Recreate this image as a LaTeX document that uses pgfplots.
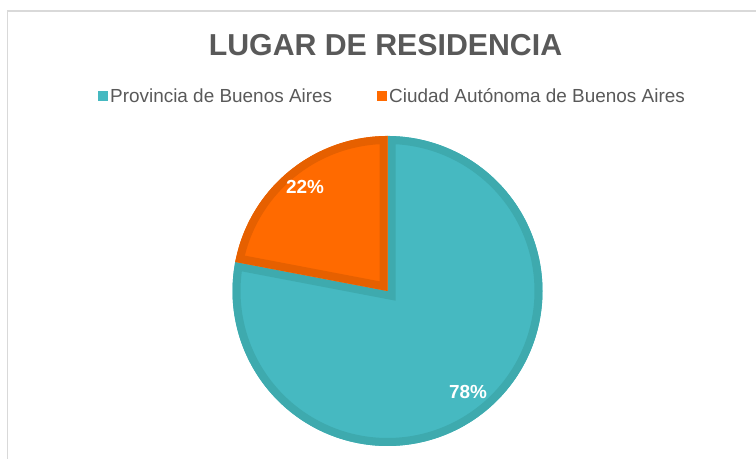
\documentclass[border=0pt]{standalone}
\usepackage{fontspec}
\setmainfont{Liberation Sans}
\usepackage{pgfplots}
\pgfplotsset{compat=1.18}
\usepackage{pgfplotstable}

\definecolor{tealfill}{RGB}{70,185,193}
\definecolor{tealedge}{RGB}{62,170,174}
\definecolor{orangefill}{RGB}{255,106,0}
\definecolor{orangeedge}{RGB}{230,96,0}
\definecolor{textgray}{RGB}{89,89,89}
\definecolor{framegray}{RGB}{217,217,217}

\pgfplotstableread{
label value
Provincia 78
Ciudad 22
}\residencia

\begin{document}
\begin{tikzpicture}
\useasboundingbox (0,0) rectangle (756bp,459bp);
\pgfplotstablegetelem{0}{value}\of\residencia \let\vProv\pgfplotsretval
\pgfplotstablegetelem{1}{value}\of\residencia \let\vCiud\pgfplotsretval
% pie geometry (1 axis unit = 1bp)
\pgfmathsetmacro\cx{387.5}
\pgfmathsetmacro\cy{168}
\pgfmathsetmacro\R{155}
\pgfmathsetmacro\w{4}% half of the border width
\pgfmathsetmacro\tot{\vProv+\vCiud}
\pgfmathsetmacro\aT{90-360*(\vProv/\tot)}
\pgfmathsetmacro\bT{90}
\pgfmathsetmacro\aO{90}
\pgfmathsetmacro\bO{90+360*(\vCiud/\tot)}
\pgfmathsetmacro\dl{asin(\w/(\R-\w))}
\pgfmathsetmacro\Ri{\R-\w}
% inner vertices of the inset border paths
\pgfmathsetmacro\dT{\w/sin((\bT-\aT)/2)}
\pgfmathsetmacro\pTx{\cx+\dT*cos((\aT+\bT)/2)}
\pgfmathsetmacro\pTy{\cy+\dT*sin((\aT+\bT)/2)}
\pgfmathsetmacro\dO{\w/sin((\bO-\aO)/2)}
\pgfmathsetmacro\pOx{\cx+\dO*cos((\aO+\bO)/2)}
\pgfmathsetmacro\pOy{\cy+\dO*sin((\aO+\bO)/2)}
\pgfmathsetmacro\aTi{\aT+\dl}
\pgfmathsetmacro\bTi{\bT-\dl}
\pgfmathsetmacro\aOi{\aO+\dl}
\pgfmathsetmacro\bOi{\bO-\dl}
\begin{axis}[
    at={(0,0)}, anchor=south west,
    width=756bp, height=459bp, scale only axis,
    xmin=0, xmax=756, ymin=0, ymax=459,
    hide axis, clip=false,
    legend columns=2,
    legend image code/.code={\fill[#1] (0bp,-5bp) rectangle (10bp,5bp);},
    legend style={at={(0.5192,0.7908)}, anchor=center, draw=none, fill=none,
        font=\fontsize{19}{22}\selectfont, text=textgray,
        /tikz/every even column/.append style={column sep=43bp}},
]
% Provincia de Buenos Aires
\addplot[fill=tealfill, draw=none, domain=\aT:\bT, samples=241, forget plot]
  ({\cx+\R*cos(x)},{\cy+\R*sin(x)}) -- (axis cs:\cx,\cy) -- cycle;
\addplot[draw=tealedge, line width=8bp, line join=miter, domain=\aTi:\bTi, samples=241, forget plot]
  ({\cx+\Ri*cos(x)},{\cy+\Ri*sin(x)}) -- (axis cs:\pTx,\pTy) -- cycle;
% Ciudad Autonoma de Buenos Aires
\addplot[fill=orangefill, draw=none, domain=\aO:\bO, samples=81, forget plot]
  ({\cx+\R*cos(x)},{\cy+\R*sin(x)}) -- (axis cs:\cx,\cy) -- cycle;
\addplot[draw=orangeedge, line width=8bp, line join=miter, domain=\aOi:\bOi, samples=81, forget plot]
  ({\cx+\Ri*cos(x)},{\cy+\Ri*sin(x)}) -- (axis cs:\pOx,\pOy) -- cycle;

\addlegendimage{fill=tealfill, draw=none}
\addlegendentry{Provincia de Buenos Aires}
\addlegendimage{fill=orangefill, draw=none}
\addlegendentry{Ciudad Autónoma de Buenos Aires}

\node[text=white, font=\bfseries\fontsize{19}{22}\selectfont] at (axis cs:305,272) {22\%};
\node[text=white, font=\bfseries\fontsize{19}{22}\selectfont] at (axis cs:468,67) {78\%};
\node[text=textgray, font=\bfseries\fontsize{30.4}{36}\selectfont] at (axis cs:385.5,414) {LUGAR DE RESIDENCIA};
\draw[framegray, line width=1.5bp] (axis cs:7.5,0) -- (axis cs:7.5,448) -- (axis cs:756,448);
\end{axis}
\end{tikzpicture}
\end{document}
